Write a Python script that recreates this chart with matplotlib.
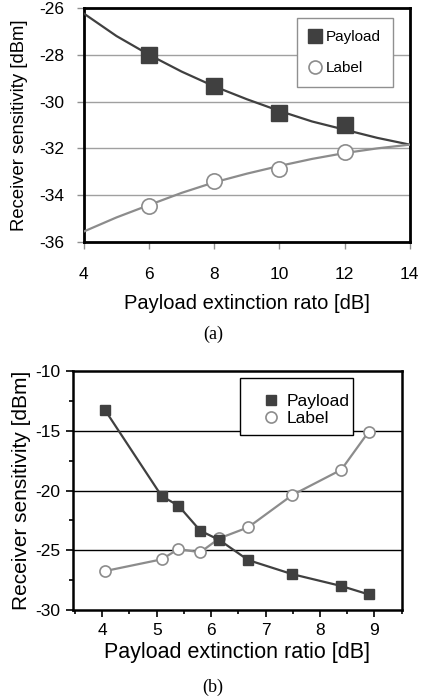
import matplotlib
matplotlib.use('Agg')
import matplotlib.pyplot as plt
from matplotlib.patches import Rectangle
from matplotlib.ticker import MultipleLocator

plt.rcParams['font.family'] = ['Liberation Sans', 'DejaVu Sans']
plt.rcParams['axes.unicode_minus'] = False

# (a) measured points
a_x = [6, 8, 10, 12]
a_payload = [-28.02, -29.32, -30.49, -31.01]
a_label = [-34.48, -33.38, -32.88, -32.17]

# (a) fitted trend curves
a_curve_x = [4, 5, 6, 7, 8, 9, 10, 11, 12, 13, 14]
a_curve_payload = [-26.24, -27.2, -28.0, -28.72, -29.35, -29.9, -30.4, -30.85, -31.2, -31.55, -31.84]
a_curve_label = [-35.55, -34.95, -34.42, -33.9, -33.45, -33.08, -32.75, -32.45, -32.2, -32.0, -31.84]

# (b) measured points
b_x = [4.05, 5.09, 5.4, 5.8, 6.15, 6.68, 7.49, 8.39, 8.89]
b_payload = [-13.26, -20.46, -21.27, -23.36, -24.14, -25.82, -27.0, -27.99, -28.69]
b_label = [-26.74, -25.76, -24.9, -25.17, -24.0, -23.08, -20.38, -18.26, -15.1]

dark = '#404040'
light = '#8c8c8c'

fig = plt.figure(figsize=(4.26, 6.99), dpi=100)

# ---------- (a) ----------
ax1 = fig.add_axes([0.197, 0.6538, 0.765, 0.3348])
ax1.plot(a_curve_x, a_curve_payload, color=dark, lw=1.6, zorder=3)
ax1.plot(a_curve_x, a_curve_label, color=light, lw=1.6, zorder=3)
ax1.plot(a_x, a_payload, 's', color=dark, ms=12, zorder=4, label='Payload')
ax1.plot(a_x, a_label, 'o', mfc='white', mec=light, mew=1.2, ms=11, zorder=4, label='Label')
ax1.set_xlim(4, 14)
ax1.set_ylim(-36, -26)
ax1.set_xticks(range(4, 15, 2))
ax1.set_yticks(range(-36, -25, 2))
for y in [-28, -30, -32, -34]:
    ax1.axhline(y, color='#a0a0a0', lw=1, zorder=1)
for s in ax1.spines.values():
    s.set_linewidth(2)
    s.set_color('black')
ax1.tick_params(direction='out', length=5, width=1, color='#909090', labelsize=12.5)
ax1.tick_params(axis='y', pad=9)
ax1.tick_params(axis='x', pad=13)
ax1.set_ylabel('Receiver sensitivity [dBm]', fontsize=13.3, labelpad=8)
ax1.set_xlabel('Payload extinction rato [dB]', fontsize=14.5, labelpad=9)
leg1 = ax1.legend(loc='upper right', bbox_to_anchor=(0.948, 0.957), borderaxespad=0,
                  fontsize=11, fancybox=False, framealpha=1, edgecolor='#909090',
                  handlelength=0.8, handletextpad=0.3, labelspacing=1.1,
                  borderpad=0.8, markerscale=0.85)
leg1.get_frame().set_linewidth(1)
fig.text(0.5, 0.521, '(a)', ha='center', va='center', fontsize=13, family='Liberation Serif')

# ---------- (b) ----------
ax2 = fig.add_axes([0.171, 0.1273, 0.772, 0.3419])
ax2.plot(b_x, b_payload, 's-', color=dark, lw=1.6, ms=7, zorder=4, label='Payload')
ax2.plot(b_x, b_label, 'o-', color=light, lw=1.6, mfc='white', mec=light, mew=1.2,
         ms=8, zorder=3, label='Label')
ax2.set_xlim(3.46, 9.5)
ax2.set_ylim(-30, -10)
ax2.xaxis.set_major_locator(MultipleLocator(1))
ax2.xaxis.set_minor_locator(MultipleLocator(0.5))
ax2.yaxis.set_major_locator(MultipleLocator(5))
ax2.yaxis.set_minor_locator(MultipleLocator(2.5))
for y in [-15, -20, -25]:
    ax2.axhline(y, color='black', lw=1, zorder=1)
for s in ax2.spines.values():
    s.set_linewidth(1.8)
    s.set_color('black')
ax2.tick_params(which='major', direction='out', length=5, width=1.2, labelsize=12.5, pad=4)
ax2.tick_params(which='minor', direction='out', length=3, width=1.2)
ax2.set_ylabel('Receiver sensitivity [dBm]', fontsize=15, labelpad=3)
ax2.set_xlabel('Payload extinction ratio [dB]', fontsize=15.5, labelpad=3)
ax2.add_patch(Rectangle((0.5076, 0.732), 0.3434, 0.239, transform=ax2.transAxes,
                        facecolor='white', edgecolor='black', lw=1, zorder=5))
leg2 = ax2.legend(loc='upper left', bbox_to_anchor=(0.57, 0.905), borderaxespad=0,
                  fontsize=12.5, frameon=False, handlelength=1.2, handletextpad=0.3,
                  labelspacing=0.1, borderpad=0)
leg2.set_zorder(6)
for line in leg2.get_lines():
    line.set_linestyle('None')
fig.text(0.5, 0.017, '(b)', ha='center', va='center', fontsize=13, family='Liberation Serif')

fig.savefig('out.png', dpi=100)
